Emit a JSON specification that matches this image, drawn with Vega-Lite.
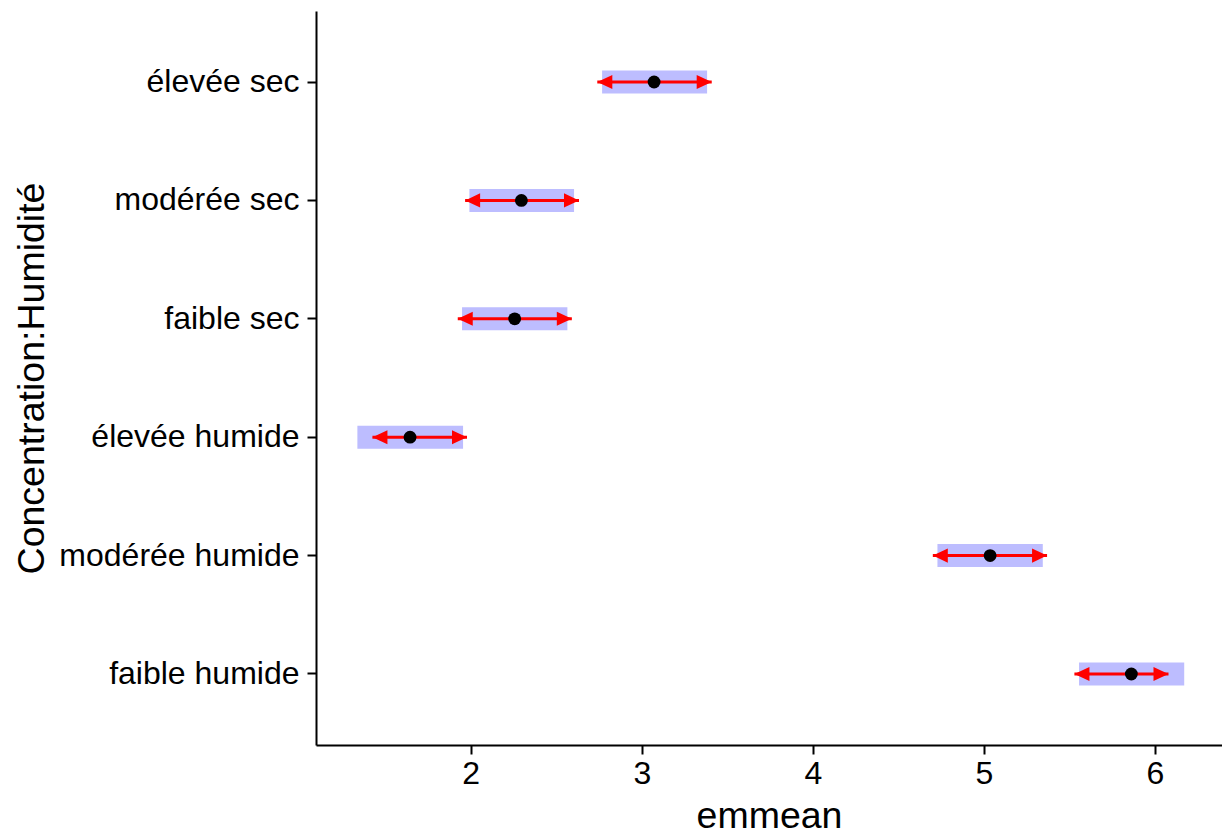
{
  "$schema": "https://vega.github.io/schema/vega-lite/v6.json",
  "width": 906,
  "height": 734,
  "autosize": {"type": "none"},
  "padding": {"left": 316, "top": 11, "right": 0, "bottom": 85},
  "background": "white",
  "config": {
    "view": {"stroke": null},
    "font": "Liberation Sans",
    "axis": {
      "domainColor": "black",
      "domainWidth": 2,
      "tickColor": "black",
      "tickWidth": 2,
      "tickSize": 9,
      "labelColor": "black",
      "labelFont": "Liberation Sans",
      "labelFontSize": 32,
      "labelLimit": 400,
      "titleFont": "Liberation Sans",
      "titleFontSize": 37.5,
      "titleFontWeight": "normal",
      "titleColor": "black",
      "grid": false
    }
  },
  "data": {
    "values": [
      {"level": "élevée sec", "emmean": 3.072, "lo": 2.768, "hi": 3.382, "alo": 2.740, "ahi": 3.409},
      {"level": "modérée sec", "emmean": 2.296, "lo": 1.992, "hi": 2.604, "alo": 1.967, "ahi": 2.633},
      {"level": "faible sec", "emmean": 2.257, "lo": 1.949, "hi": 2.565, "alo": 1.924, "ahi": 2.591},
      {"level": "élevée humide", "emmean": 1.645, "lo": 1.337, "hi": 1.955, "alo": 1.425, "ahi": 1.978},
      {"level": "modérée humide", "emmean": 5.037, "lo": 4.729, "hi": 5.345, "alo": 4.702, "ahi": 5.370},
      {"level": "faible humide", "emmean": 5.863, "lo": 5.557, "hi": 6.172, "alo": 5.530, "ahi": 6.080}
    ]
  },
  "encoding": {
    "y": {
      "field": "level",
      "type": "nominal",
      "sort": ["élevée sec", "modérée sec", "faible sec", "élevée humide", "modérée humide", "faible humide"],
      "scale": {"paddingInner": 0, "paddingOuter": 0.1},
      "axis": {"title": "Concentration:Humidité", "labelPadding": 8, "titleX": -273, "titleY": 367, "titleBaseline": "alphabetic", "titleAlign": "center", "titleAngle": -90}
    }
  },
  "layer": [
    {
      "mark": {"type": "bar", "color": "#BDBDFF", "height": 23},
      "encoding": {
        "x": {
          "field": "lo",
          "type": "quantitative",
          "scale": {"domain": [1.095, 6.393], "nice": false, "zero": false},
          "axis": {"title": "emmean", "values": [2, 3, 4, 5, 6], "format": "d", "labelPadding": 4, "titleX": 453, "titleY": 82, "titleBaseline": "alphabetic", "titleAlign": "center"}
        },
        "x2": {"field": "hi"}
      }
    },
    {
      "mark": {"type": "rule", "color": "#FF0000", "strokeWidth": 3},
      "encoding": {
        "x": {"field": "alo", "type": "quantitative"},
        "x2": {"field": "ahi"}
      }
    },
    {
      "mark": {"type": "point", "shape": "M0,0L1,-0.47L1,0.47Z", "filled": true, "color": "#FF0000", "size": 900, "opacity": 1},
      "encoding": {
        "x": {"field": "alo", "type": "quantitative"}
      }
    },
    {
      "mark": {"type": "point", "shape": "M0,0L-1,-0.47L-1,0.47Z", "filled": true, "color": "#FF0000", "size": 900, "opacity": 1},
      "encoding": {
        "x": {"field": "ahi", "type": "quantitative"}
      }
    },
    {
      "mark": {"type": "point", "shape": "circle", "filled": true, "color": "black", "size": 165, "opacity": 1},
      "encoding": {
        "x": {"field": "emmean", "type": "quantitative"}
      }
    }
  ]
}
